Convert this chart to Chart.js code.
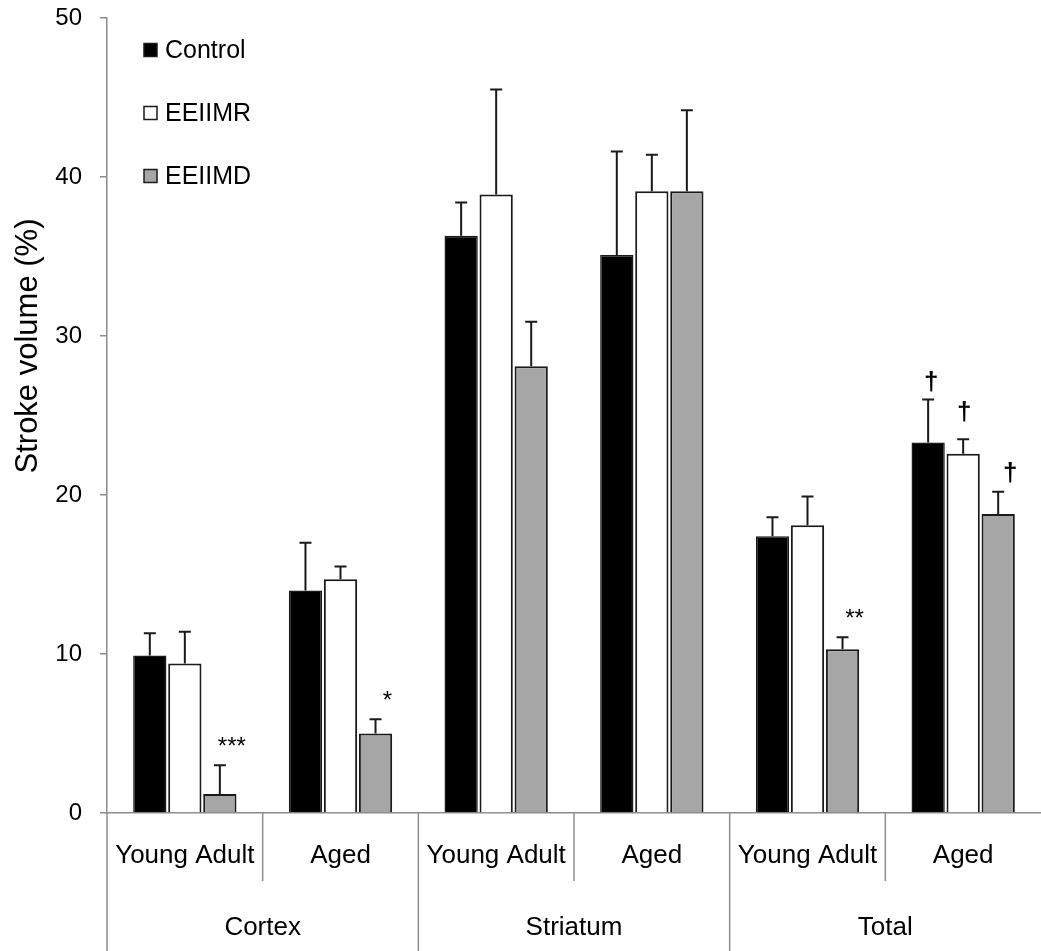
<!DOCTYPE html>
<html>
<head>
<meta charset="utf-8">
<script src="https://cdn.jsdelivr.net/npm/chart.js@4.4.1/dist/chart.umd.min.js"></script>
<style>
  html, body { margin: 0; padding: 0; background: #ffffff; }
  #wrap { width: 1041px; height: 951px; position: relative; }
</style>
</head>
<body>
<div id="wrap"><canvas id="c" width="1041" height="951"></canvas></div>
<script>
// ---- data ----
const regions = ['Cortex', 'Striatum', 'Total'];
const ageGroups = ['Young Adult', 'Aged', 'Young Adult', 'Aged', 'Young Adult', 'Aged'];
const seriesNames = ['Control', 'EEIIMR', 'EEIIMD'];
const controlMean = [9.9, 14.0, 36.3, 35.1, 17.4, 23.3];
const controlErr  = [1.4, 3.0, 2.1, 6.5, 1.2, 2.7];
const eeiimrMean  = [9.4, 14.7, 38.9, 39.1, 18.1, 22.6];
const eeiimrErr   = [2.0, 0.8, 6.6, 2.3, 1.8, 0.9];
const eeiimdMean  = [1.2, 5.0, 28.1, 39.1, 10.3, 18.8];
const eeiimdErr   = [1.8, 0.9, 2.8, 5.1, 0.75, 1.4];
const controlMarks = ['', '', '', '', '', '†'];
const eeiimrMarks  = ['', '', '', '', '', '†'];
const eeiimdMarks  = ['***', '*', '', '', '**', '†'];
const yTicks = [0, 10, 20, 30, 40, 50];
const yTitle = 'Stroke volume (%)';

// ---- styles ----
const FONT = "'Liberation Sans', Arial, Helvetica, sans-serif";
const AXIS_GRAY = '#8c8c8c';
const INK = '#1a1a1a';
const errs = [controlErr, eeiimrErr, eeiimdErr];
const marks = [controlMarks, eeiimrMarks, eeiimdMarks];
const markDx = [3, 1, 12];
const markDy = [10, 19, 11];

const errorBarPlugin = {
  id: 'errorBars',
  afterDatasetsDraw(chart) {
    const ctx = chart.ctx;
    const y = chart.scales.y;
    ctx.save();
    ctx.strokeStyle = INK;
    ctx.lineWidth = 2;
    chart.data.datasets.forEach((ds, di) => {
      const meta = chart.getDatasetMeta(di);
      meta.data.forEach((bar, i) => {
        const top = y.getPixelForValue(ds.data[i] + errs[di][i]);
        const base = y.getPixelForValue(ds.data[i]);
        ctx.beginPath();
        ctx.moveTo(bar.x, base);
        ctx.lineTo(bar.x, top);
        ctx.moveTo(bar.x - 6, top);
        ctx.lineTo(bar.x + 6, top);
        ctx.stroke();
        const m = marks[di][i];
        if (m) {
          ctx.fillStyle = '#000';
          ctx.font = (m === '†' ? 'bold 26px ' : '24px ') + FONT;
          ctx.textAlign = 'center';
          ctx.textBaseline = 'alphabetic';
          ctx.fillText(m, bar.x + markDx[di], top - markDy[di]);
        }
      });
    });
    ctx.restore();
  }
};

const decorPlugin = {
  id: 'decor',
  afterDraw(chart) {
    const ctx = chart.ctx;
    const xs = chart.scales.x;
    const area = chart.chartArea;
    const n = ageGroups.length;
    const per = n / regions.length;
    ctx.save();
    // category separators
    ctx.strokeStyle = AXIS_GRAY;
    ctx.lineWidth = 1.5;
    for (let i = 0; i < n; i++) {
      const px = i === 0 ? xs.left : (xs.getPixelForValue(i - 1) + xs.getPixelForValue(i)) / 2;
      const long = i % per === 0;
      ctx.beginPath();
      ctx.moveTo(px, xs.top);
      ctx.lineTo(px, long ? chart.height : xs.bottom);
      ctx.stroke();
    }
    // legend
    ctx.font = '25px ' + FONT;
    ctx.textAlign = 'left';
    ctx.textBaseline = 'middle';
    chart.data.datasets.forEach((ds, di) => {
      const cy = area.top + 32 + di * 63;
      const sx = area.left + 37;
      ctx.fillStyle = ds.backgroundColor;
      ctx.fillRect(sx, cy - 6.5, 13, 13);
      ctx.strokeStyle = INK;
      ctx.lineWidth = 1.5;
      ctx.strokeRect(sx, cy - 6.5, 13, 13);
      ctx.fillStyle = '#000';
      ctx.fillText(ds.label, sx + 21, cy + 1);
    });
    // y axis title
    ctx.translate(37, 346);
    ctx.rotate(-Math.PI / 2);
    ctx.font = '31px ' + FONT;
    ctx.textAlign = 'center';
    ctx.textBaseline = 'alphabetic';
    ctx.fillStyle = '#000';
    ctx.fillText(yTitle, 0, 0);
    ctx.restore();
  }
};

new Chart(document.getElementById('c').getContext('2d'), {
  type: 'bar',
  data: {
    labels: ageGroups,
    datasets: [
      { label: seriesNames[0], data: controlMean, backgroundColor: '#000000', borderColor: INK, borderWidth: 1.5 },
      { label: seriesNames[1], data: eeiimrMean, backgroundColor: '#ffffff', borderColor: INK, borderWidth: 2 },
      { label: seriesNames[2], data: eeiimdMean, backgroundColor: '#a6a6a6', borderColor: INK, borderWidth: 2 }
    ]
  },
  options: {
    responsive: false,
    animation: false,
    devicePixelRatio: 1,
    layout: { padding: { top: 18, left: 0, right: 0, bottom: 0 } },
    datasets: { bar: { categoryPercentage: 0.675, barPercentage: 0.95 } },
    plugins: { legend: { display: false }, tooltip: { enabled: false }, title: { display: false } },
    scales: {
      x: {
        type: 'category', position: 'bottom', weight: 0, offset: true,
        grid: { display: true, drawOnChartArea: false, drawTicks: false },
        border: { display: true, color: AXIS_GRAY, width: 1.5 },
        ticks: { color: '#000', font: { family: FONT, size: 26 }, padding: 27, maxRotation: 0, autoSkip: false },
        afterFit(s) { s.height = 68; s.paddingLeft = 0; s.paddingRight = 0; }
      },
      x2: {
        type: 'category', labels: regions, position: 'bottom', weight: 1, offset: true,
        grid: { display: false, drawOnChartArea: false, drawTicks: false },
        border: { display: false },
        ticks: { color: '#000', font: { family: FONT, size: 26 }, padding: 31, maxRotation: 0, autoSkip: false },
        afterFit(s) { s.height = 70; s.paddingLeft = 0; s.paddingRight = 0; }
      },
      y: {
        min: yTicks[0], max: yTicks[yTicks.length - 1],
        grid: { display: true, drawOnChartArea: false, drawTicks: true, tickLength: 7, color: AXIS_GRAY, lineWidth: 1.5 },
        border: { display: true, color: AXIS_GRAY, width: 1.5 },
        ticks: { stepSize: yTicks[1] - yTicks[0], color: '#000', font: { family: FONT, size: 24 }, padding: 18 },
        afterFit(s) { s.width = 107; s.paddingTop = 0; s.paddingBottom = 0; }
      }
    }
  },
  plugins: [errorBarPlugin, decorPlugin]
});
</script>
</body>
</html>
